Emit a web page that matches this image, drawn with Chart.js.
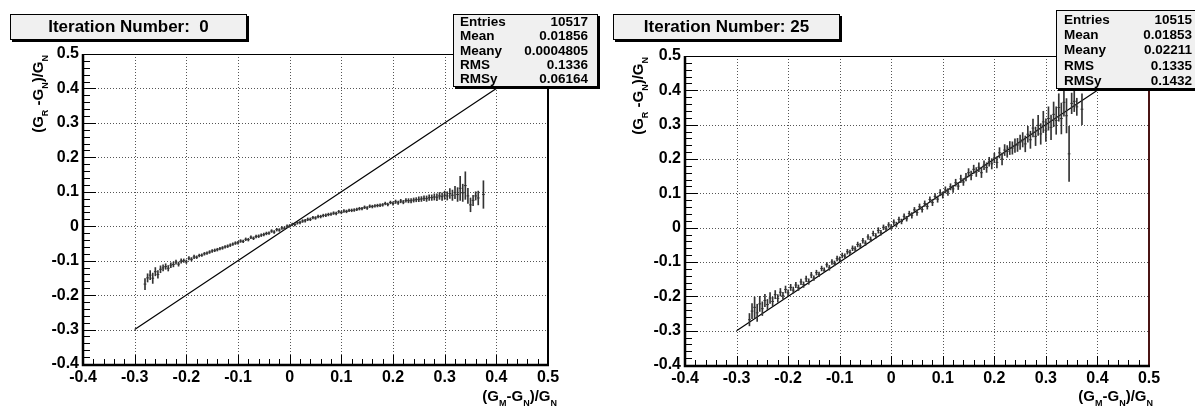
<!DOCTYPE html>
<html>
<head>
<meta charset="utf-8">
<script src="https://cdn.jsdelivr.net/npm/chart.js@4.4.0/dist/chart.umd.min.js"></script>
<style>
  body { margin: 0; background: #fff; width: 1195px; height: 410px; overflow: hidden; position: relative;
         font-family: 'Liberation Sans', Arial, sans-serif; }
  canvas { position: absolute; top: 0; }
  .title { position: absolute; top: 14px; height: 24px; background: #f0f0f0; border: 1px solid #000;
           box-shadow: 2px 2px 0 #000; font-weight: bold; font-size: 17px; line-height: 24px;
           text-align: center; white-space: pre; z-index: 2; }
  .stats { position: absolute; background: #f0f0f0; border: 1px solid #000; box-shadow: 2px 2px 0 #000;
           font-weight: bold; font-size: 13.5px; z-index: 2; box-sizing: border-box; }
  .stats .row { display: flex; justify-content: space-between; }
  .axt { position: absolute; font-weight: bold; font-size: 15px; line-height: 16px; white-space: nowrap;
         text-align: right; z-index: 2; }
  .axt.y { transform: rotate(-90deg); transform-origin: left top; }
  .axt sub { font-size: 9px; vertical-align: -5px; line-height: 0; }
</style>
</head>
<body>
<canvas id="left" width="597" height="410" style="left:0"></canvas>
<canvas id="right" width="598" height="410" style="left:597px"></canvas>

<div class="title" style="left:10px;width:235px">Iteration Number:  0</div>
<div class="title" style="left:613px;width:225px">Iteration Number: 25</div>
<div class="stats" id="statsLeft" style="left:453px;top:14px;width:145px;height:73px;padding:0 9px 0 6px"></div>
<div class="stats" id="statsRight" style="left:1056px;top:10px;width:150px;height:79px;padding:1px 13px 0 7px"></div>

<div class="axt y" style="left:30px;top:185px;width:130px">(G<sub>R</sub> -G<sub>N</sub>)/G<sub>N</sub></div>
<div class="axt y" style="left:630px;top:187px;width:130px">(G<sub>R</sub> -G<sub>N</sub>)/G<sub>N</sub></div>
<div class="axt" style="left:400px;top:388px;width:157px">(G<sub>M</sub>-G<sub>N</sub>)/G<sub>N</sub></div>
<div class="axt" style="left:996px;top:388px;width:157px">(G<sub>M</sub>-G<sub>N</sub>)/G<sub>N</sub></div>

<script>
// axis range shared by both panels
const axisMin = -0.4;
const axisMax = 0.5;
const axisStep = 0.1;

// reference line y = x
const diagX = [-0.3, 0.4];
const diagY = [-0.3, 0.4];

// stats boxes
const statNames = ['Entries', 'Mean', 'Meany', 'RMS', 'RMSy'];
const statsLeft = ['10517', '0.01856', '0.0004805', '0.1336', '0.06164'];
const statsRight = ['10515', '0.01853', '0.02211', '0.1335', '0.1432'];

// iteration 0 profile
const leftX = [
  -0.280,-0.275,-0.270,-0.265,-0.260,-0.255,-0.250,-0.245,-0.240,-0.235,
  -0.230,-0.225,-0.220,-0.215,-0.210,-0.205,-0.200,-0.195,-0.190,-0.185,
  -0.180,-0.175,-0.170,-0.165,-0.160,-0.155,-0.150,-0.145,-0.140,-0.135,
  -0.130,-0.125,-0.120,-0.115,-0.110,-0.105,-0.100,-0.095,-0.090,-0.085,
  -0.080,-0.075,-0.070,-0.065,-0.060,-0.055,-0.050,-0.045,-0.040,-0.035,
  -0.030,-0.025,-0.020,-0.015,-0.010,-0.005, 0.000, 0.005, 0.010, 0.015,
   0.020, 0.025, 0.030, 0.035, 0.040, 0.045, 0.050, 0.055, 0.060, 0.065,
   0.070, 0.075, 0.080, 0.085, 0.090, 0.095, 0.100, 0.105, 0.110, 0.115,
   0.120, 0.125, 0.130, 0.135, 0.140, 0.145, 0.150, 0.155, 0.160, 0.165,
   0.170, 0.175, 0.180, 0.185, 0.190, 0.195, 0.200, 0.205, 0.210, 0.215,
   0.220, 0.225, 0.230, 0.235, 0.240, 0.245, 0.250, 0.255, 0.260, 0.265,
   0.270, 0.275, 0.280, 0.285, 0.290, 0.295, 0.300, 0.305, 0.310, 0.315,
   0.320, 0.325, 0.330, 0.335, 0.340, 0.345, 0.350, 0.355, 0.360, 0.365,
   0.375
];
const leftY = [
  -0.168,-0.150,-0.142,-0.151,-0.132,-0.140,-0.125,-0.121,-0.117,-0.122,
  -0.113,-0.111,-0.104,-0.110,-0.101,-0.100,-0.103,-0.093,-0.096,-0.089,
  -0.090,-0.085,-0.084,-0.080,-0.078,-0.075,-0.072,-0.070,-0.068,-0.065,
  -0.063,-0.060,-0.058,-0.055,-0.052,-0.049,-0.048,-0.043,-0.044,-0.038,
  -0.039,-0.032,-0.035,-0.030,-0.029,-0.026,-0.024,-0.021,-0.020,-0.014,
  -0.017,-0.010,-0.011,-0.005,-0.006, 0.000, 0.001, 0.005, 0.005, 0.010,
   0.011, 0.015, 0.016, 0.020, 0.020, 0.025, 0.024, 0.028, 0.028, 0.031,
   0.032, 0.034, 0.035, 0.038, 0.037, 0.042, 0.040, 0.044, 0.043, 0.046,
   0.046, 0.047, 0.049, 0.051, 0.051, 0.055, 0.053, 0.058, 0.057, 0.059,
   0.060, 0.061, 0.062, 0.066, 0.063, 0.069, 0.066, 0.071, 0.068, 0.073,
   0.070, 0.075, 0.074, 0.074, 0.076, 0.077, 0.078, 0.079, 0.081, 0.080,
   0.083, 0.083, 0.085, 0.084, 0.088, 0.086, 0.090, 0.088, 0.095, 0.090,
   0.098, 0.092, 0.110, 0.097, 0.118, 0.088, 0.062, 0.075, 0.088, 0.082,
   0.092
];
const leftErr = [
  0.016,0.012,0.013,0.015,0.012,0.011,0.010,0.009,0.008,0.008,
  0.007,0.007,0.006,0.006,0.006,0.005,0.005,0.005,0.005,0.005,
  0.004,0.004,0.004,0.004,0.004,0.004,0.004,0.004,0.004,0.004,
  0.004,0.004,0.004,0.004,0.004,0.004,0.004,0.004,0.004,0.004,
  0.004,0.004,0.004,0.004,0.004,0.004,0.004,0.004,0.004,0.004,
  0.004,0.004,0.004,0.004,0.004,0.004,0.004,0.004,0.004,0.004,
  0.004,0.004,0.004,0.004,0.004,0.004,0.004,0.004,0.004,0.004,
  0.004,0.004,0.004,0.004,0.004,0.004,0.004,0.004,0.004,0.004,
  0.004,0.004,0.004,0.004,0.004,0.004,0.004,0.004,0.004,0.004,
  0.004,0.004,0.004,0.004,0.004,0.004,0.005,0.005,0.005,0.005,
  0.005,0.005,0.006,0.006,0.006,0.006,0.007,0.007,0.007,0.008,
  0.008,0.008,0.009,0.010,0.010,0.011,0.012,0.012,0.014,0.015,
  0.018,0.020,0.035,0.025,0.040,0.022,0.020,0.015,0.012,0.020,
  0.040
];

// iteration 25 profile
const rightX = [
  -0.275,-0.270,-0.265,-0.260,-0.255,-0.250,-0.245,-0.240,-0.235,-0.230,
  -0.225,-0.220,-0.215,-0.210,-0.205,-0.200,-0.195,-0.190,-0.185,-0.180,
  -0.175,-0.170,-0.165,-0.160,-0.155,-0.150,-0.145,-0.140,-0.135,-0.130,
  -0.125,-0.120,-0.115,-0.110,-0.105,-0.100,-0.095,-0.090,-0.085,-0.080,
  -0.075,-0.070,-0.065,-0.060,-0.055,-0.050,-0.045,-0.040,-0.035,-0.030,
  -0.025,-0.020,-0.015,-0.010,-0.005, 0.000, 0.005, 0.010, 0.015, 0.020,
   0.025, 0.030, 0.035, 0.040, 0.045, 0.050, 0.055, 0.060, 0.065, 0.070,
   0.075, 0.080, 0.085, 0.090, 0.095, 0.100, 0.105, 0.110, 0.115, 0.120,
   0.125, 0.130, 0.135, 0.140, 0.145, 0.150, 0.155, 0.160, 0.165, 0.170,
   0.175, 0.180, 0.185, 0.190, 0.195, 0.200, 0.205, 0.210, 0.215, 0.220,
   0.225, 0.230, 0.235, 0.240, 0.245, 0.250, 0.255, 0.260, 0.265, 0.270,
   0.275, 0.280, 0.285, 0.290, 0.295, 0.300, 0.305, 0.310, 0.315, 0.320,
   0.325, 0.330, 0.335, 0.340, 0.345, 0.350, 0.355, 0.360, 0.370
];
const rightY = [
  -0.268,-0.243,-0.232,-0.248,-0.222,-0.236,-0.212,-0.224,-0.205,-0.215,
  -0.195,-0.206,-0.188,-0.198,-0.180,-0.190,-0.174,-0.182,-0.167,-0.175,
  -0.158,-0.166,-0.149,-0.157,-0.138,-0.147,-0.131,-0.136,-0.119,-0.124,
  -0.108,-0.117,-0.100,-0.104,-0.090,-0.092,-0.081,-0.083,-0.070,-0.072,
  -0.060,-0.062,-0.049,-0.053,-0.038,-0.045,-0.027,-0.034,-0.017,-0.024,
  -0.008,-0.015, 0.001,-0.003, 0.008, 0.002, 0.016, 0.009, 0.024, 0.018,
   0.033, 0.026, 0.041, 0.036, 0.052, 0.044, 0.061, 0.053, 0.070, 0.062,
   0.082, 0.073, 0.091, 0.083, 0.102, 0.095, 0.110, 0.104, 0.119, 0.113,
   0.131, 0.121, 0.142, 0.133, 0.147, 0.160, 0.152, 0.170, 0.162, 0.176,
   0.160, 0.182, 0.175, 0.192, 0.186, 0.203, 0.190, 0.218, 0.200, 0.226,
   0.222, 0.232, 0.232, 0.239, 0.241, 0.249, 0.256, 0.244, 0.272, 0.256,
   0.290, 0.266, 0.298, 0.273, 0.308, 0.284, 0.318, 0.292, 0.330, 0.312,
   0.350, 0.318, 0.365, 0.326, 0.215, 0.362, 0.368, 0.352, 0.345
];
const rightErr = [
  0.018,0.022,0.030,0.025,0.022,0.020,0.018,0.015,0.016,0.013,
  0.012,0.011,0.011,0.010,0.010,0.009,0.009,0.009,0.008,0.008,
  0.008,0.008,0.008,0.008,0.008,0.007,0.007,0.007,0.007,0.007,
  0.007,0.007,0.007,0.007,0.007,0.007,0.007,0.007,0.007,0.007,
  0.007,0.007,0.007,0.007,0.007,0.007,0.007,0.007,0.007,0.007,
  0.008,0.007,0.007,0.007,0.007,0.007,0.007,0.007,0.007,0.007,
  0.007,0.007,0.007,0.008,0.007,0.008,0.008,0.008,0.008,0.008,
  0.008,0.009,0.008,0.009,0.009,0.009,0.009,0.010,0.009,0.010,
  0.010,0.010,0.011,0.010,0.011,0.012,0.013,0.012,0.013,0.013,
  0.014,0.013,0.014,0.013,0.015,0.014,0.016,0.015,0.017,0.016,
  0.017,0.019,0.018,0.020,0.019,0.021,0.021,0.023,0.023,0.025,
  0.026,0.027,0.029,0.030,0.031,0.033,0.034,0.036,0.036,0.040,
  0.040,0.045,0.040,0.050,0.080,0.030,0.030,0.025,0.045
];

function fillStats(id, values) {
  const box = document.getElementById(id);
  statNames.forEach((name, i) => {
    const row = document.createElement('div');
    row.className = 'row';
    row.style.height = id === 'statsLeft' ? '14.3px' : '15.2px';
    row.style.lineHeight = row.style.height;
    row.innerHTML = '<span>' + name + '</span><span>' + values[i] + '</span>';
    box.appendChild(row);
  });
}
fillStats('statsLeft', statsLeft);
fillStats('statsRight', statsRight);

// ROOT-like frame: dotted grid, inward ticks, heavy axes
const rootFrame = {
  id: 'rootFrame',
  beforeDatasetsDraw(chart) {
    const { ctx, chartArea: a, scales: { x, y } } = chart;
    ctx.save();
    ctx.strokeStyle = '#555';
    ctx.lineWidth = 1;
    ctx.setLineDash([1, 2]);
    x.ticks.forEach(t => {
      const px = Math.round(x.getPixelForValue(t.value)) + 0.5;
      if (px < a.left + 3 || px > a.right - 3) return;
      ctx.beginPath(); ctx.moveTo(px, a.top); ctx.lineTo(px, a.bottom); ctx.stroke();
    });
    y.ticks.forEach(t => {
      const py = Math.round(y.getPixelForValue(t.value)) + 0.5;
      if (py < a.top + 3 || py > a.bottom - 3) return;
      ctx.beginPath(); ctx.moveTo(a.left, py); ctx.lineTo(a.right, py); ctx.stroke();
    });
    ctx.restore();
  },
  afterDatasetsDraw(chart, args, opts) {
    const { ctx, chartArea: a, scales: { x, y } } = chart;
    ctx.save();
    ctx.setLineDash([]);
    ctx.strokeStyle = '#000';
    // minor/major ticks every 0.02
    ctx.lineWidth = 1;
    for (let i = 0; i <= 45; i++) {
      const v = axisMin + i * 0.02;
      const major = i % 5 === 0;
      const px = Math.round(x.getPixelForValue(v)) + 0.5;
      const py = Math.round(y.getPixelForValue(v)) + 0.5;
      ctx.beginPath();
      ctx.moveTo(px, a.bottom); ctx.lineTo(px, a.bottom - (major ? 9 : 5));
      ctx.moveTo(a.left, py); ctx.lineTo(a.left + (major ? 13 : 7), py);
      ctx.stroke();
    }
    // thin top frame
    ctx.lineWidth = 1;
    ctx.beginPath(); ctx.moveTo(a.left, a.top + 0.5); ctx.lineTo(a.right, a.top + 0.5); ctx.stroke();
    // right frame
    ctx.strokeStyle = opts.rightColor || '#000';
    ctx.lineWidth = 2;
    ctx.beginPath(); ctx.moveTo(a.right, a.top); ctx.lineTo(a.right, a.bottom); ctx.stroke();
    // heavy axes
    ctx.strokeStyle = '#000';
    ctx.lineWidth = 2.5;
    ctx.beginPath();
    ctx.moveTo(a.left, a.top); ctx.lineTo(a.left, a.bottom + 1); ctx.lineTo(a.right + 1, a.bottom + 1);
    ctx.stroke();
    ctx.restore();
  }
};

function makePanel(canvasId, xs, ys, errs, box) {
  const tickFont = { family: "'Liberation Sans', Arial, sans-serif", size: 16, weight: 'bold' };
  const fmt = v => Number(v.toFixed(2)).toString();
  new Chart(document.getElementById(canvasId), {
    data: {
      datasets: [
        {
          type: 'line',
          data: diagX.map((x, i) => ({ x: x, y: diagY[i] })),
          borderColor: '#000',
          borderWidth: 1.2,
          pointRadius: 0,
          order: 3
        },
        {
          type: 'bar',
          data: xs.map((x, i) => ({ x: x, y: [ys[i] - errs[i], ys[i] + errs[i]] })),
          backgroundColor: '#333',
          borderWidth: 0,
          barThickness: 1,
          order: 2
        },
        {
          type: 'scatter',
          data: xs.map((x, i) => ({ x: x, y: ys[i] })),
          pointStyle: 'line',
          pointRadius: 1.4,
          borderColor: '#333',
          borderWidth: 1,
          order: 1
        }
      ]
    },
    options: {
      responsive: false,
      animation: false,
      events: [],
      layout: { padding: { top: box.top, right: box.right, left: 0, bottom: 0 } },
      plugins: {
        legend: { display: false },
        tooltip: { enabled: false },
        rootFrame: { rightColor: box.rightColor }
      },
      scales: {
        x: {
          type: 'linear',
          min: axisMin,
          max: axisMax,
          offset: false,
          grid: { display: false, drawTicks: false, offset: false },
          border: { display: false },
          ticks: { stepSize: axisStep, color: '#000', font: tickFont, padding: 4,
                   maxRotation: 0, autoSkip: false, callback: fmt },
          afterFit(s) { s.height = box.bottom; }
        },
        y: {
          type: 'linear',
          min: axisMin,
          max: axisMax,
          grid: { display: false, drawTicks: false },
          border: { display: false },
          ticks: { stepSize: axisStep, color: '#000', font: tickFont, padding: 4,
                   autoSkip: false, callback: fmt },
          afterFit(s) { s.width = box.left; }
        }
      }
    },
    plugins: [rootFrame]
  });
}

makePanel('left', leftX, leftY, leftErr, { left: 83, right: 49, top: 54, bottom: 46 });
makePanel('right', rightX, rightY, rightErr, { left: 88, right: 46, top: 56, bottom: 45, rightColor: '#4a1414' });
</script>
</body>
</html>
